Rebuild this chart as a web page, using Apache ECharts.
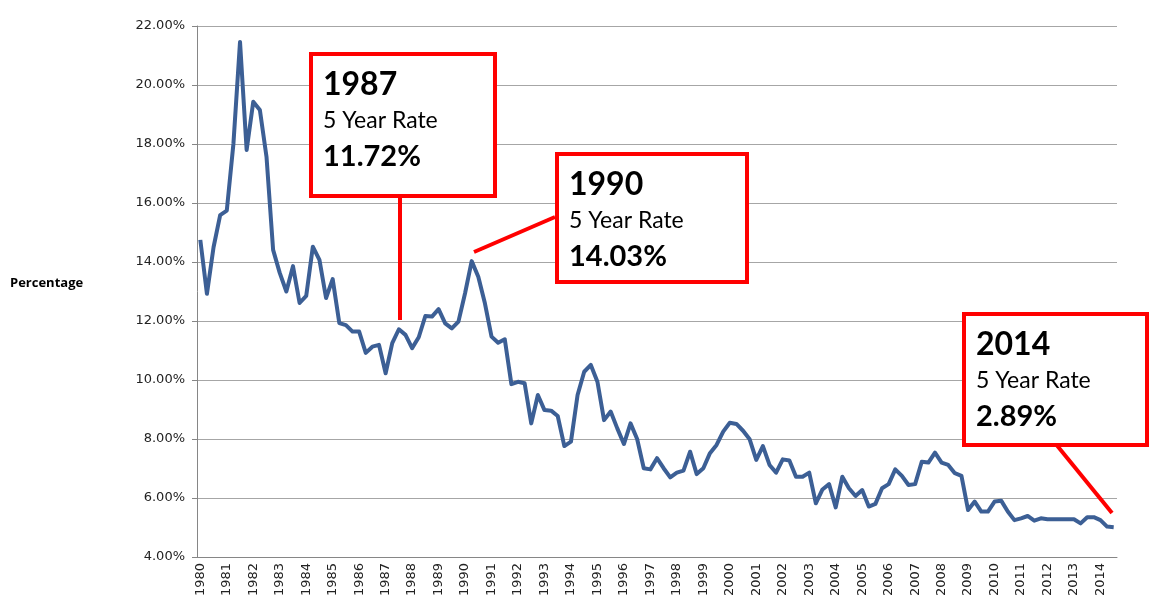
<!DOCTYPE html>
<html>
<head>
<meta charset="utf-8">
<style>
  html, body { margin: 0; padding: 0; background: #fff; }
  #rateChart { width: 1158px; height: 611px; }
</style>
<script src="https://cdn.jsdelivr.net/npm/echarts@6/dist/echarts.min.js"></script>
</head>
<body>
<div id="rateChart"></div>
<script>
// quarterly 5 year rate, 1980 Q1 .. 2014 Q3
const years = [1980, 1981, 1982, 1983, 1984, 1985, 1986, 1987, 1988, 1989,
  1990, 1991, 1992, 1993, 1994, 1995, 1996, 1997, 1998, 1999,
  2000, 2001, 2002, 2003, 2004, 2005, 2006, 2007, 2008, 2009,
  2010, 2011, 2012, 2013, 2014]
const quarterNames = ['Q1', 'Q2', 'Q3', 'Q4']
const lastQuarterCount = 3 // 2014 stops at Q3

const rates1980s = [14.75, 12.92, 14.5, 15.59, 15.74, 18.0, 21.46, 17.8, 19.43, 19.15,
  17.57, 14.41, 13.63, 13.0, 13.86, 12.61, 12.85, 14.52, 14.07, 12.78,
  13.42, 11.93, 11.86, 11.64, 11.64, 10.92, 11.13, 11.19, 10.23, 11.25,
  11.72, 11.53, 11.08, 11.45, 12.17, 12.15, 12.4, 11.92, 11.75, 11.98]
const rates1990s = [12.94, 14.03, 13.5, 12.6, 11.47, 11.26, 11.38, 9.86, 9.94, 9.89,
  8.53, 9.49, 8.98, 8.96, 8.78, 7.76, 7.91, 9.49, 10.28, 10.51,
  9.94, 8.64, 8.93, 8.36, 7.83, 8.53, 8.0, 7.01, 6.97, 7.35,
  7.01, 6.7, 6.86, 6.93, 7.57, 6.81, 7.01, 7.52, 7.8, 8.25]
const rates2000s = [8.55, 8.51, 8.28, 7.99, 7.29, 7.76, 7.12, 6.86, 7.31, 7.27,
  6.72, 6.72, 6.86, 5.82, 6.29, 6.47, 5.68, 6.72, 6.33, 6.07,
  6.27, 5.71, 5.8, 6.33, 6.47, 6.97, 6.75, 6.44, 6.47, 7.23,
  7.2, 7.54, 7.2, 7.12, 6.84, 6.75, 5.59, 5.88, 5.54, 5.54]
const rates2010s = [5.88, 5.91, 5.54, 5.25, 5.31, 5.39, 5.23, 5.31, 5.28, 5.28,
  5.28, 5.28, 5.28, 5.14, 5.35, 5.35, 5.25, 5.03, 5.01]

const yTicks = [4, 6, 8, 10, 12, 14, 16, 18, 20, 22]

const callouts = [
  { year: '1987', label: '5 Year Rate', value: '11.72%' },
  { year: '1990', label: '5 Year Rate', value: '14.03%' },
  { year: '2014', label: '5 Year Rate', value: '2.89%' }
]

const categories = []
years.forEach((y, yi) => {
  const n = yi === years.length - 1 ? lastQuarterCount : 4
  for (let q = 0; q < n; q++) categories.push(y + ' ' + quarterNames[q])
})
const rates = rates1980s.concat(rates1990s, rates2000s, rates2010s)

const myChart = echarts.init(document.getElementById('rateChart'))

const boxFont = "Lato, 'Noto Sans', sans-serif"
const axisFont = "'DejaVu Sans', Verdana, sans-serif"

const calloutBox = (c, x, y, w, h) => ({
  type: 'group',
  left: x,
  top: y,
  z: 100,
  children: [
    {
      type: 'rect',
      z: 100,
      shape: { x: 0, y: 0, width: w, height: h },
      style: { fill: '#fff', stroke: '#ff0000', lineWidth: 4 }
    },
    {
      type: 'text', x: 12, y: 15, z: 101,
      style: { text: c.year, font: 'bold 32px ' + boxFont, fill: '#000' }
    },
    {
      type: 'text', x: 12, y: 55, z: 101,
      style: { text: c.label, font: '23px ' + boxFont, fill: '#000' }
    },
    {
      type: 'text', x: 12, y: 88, z: 101,
      style: { text: c.value, font: 'bold 29px ' + boxFont, fill: '#000' }
    }
  ]
})

const connector = (x1, y1, x2, y2) => ({
  type: 'line',
  z: 99,
  shape: { x1: x1, y1: y1, x2: x2, y2: y2 },
  style: { stroke: '#ff0000', lineWidth: 4 }
})

const option = {
  animation: false,
  grid: {
    left: 197,
    right: 41,
    top: 26,
    bottom: 54
  },
  xAxis: {
    type: 'category',
    data: categories,
    boundaryGap: true,
    axisLine: { lineStyle: { color: '#868686', width: 1 } },
    axisTick: {
      interval: 0,
      length: 4,
      lineStyle: { color: '#868686' }
    },
    axisLabel: {
      interval: 3,
      rotate: 90,
      margin: 6,
      color: '#222',
      fontSize: 13,
      fontFamily: axisFont,
      formatter: (v) => v.slice(0, 4)
    },
    splitLine: { show: false }
  },
  yAxis: {
    type: 'value',
    min: yTicks[0],
    max: yTicks[yTicks.length - 1],
    interval: 2,
    axisLine: { show: true, lineStyle: { color: '#868686', width: 1 } },
    axisTick: { show: true, length: 5, lineStyle: { color: '#868686' } },
    axisLabel: {
      color: '#222',
      fontSize: 13,
      margin: 12,
      fontFamily: axisFont,
      formatter: (v) => v.toFixed(2) + '%'
    },
    splitLine: { lineStyle: { color: '#a6a6a6', width: 1 } }
  },
  series: [
    {
      type: 'line',
      data: rates,
      showSymbol: false,
      symbol: 'none',
      lineStyle: { color: '#3c5f95', width: 4, join: 'round' }
    }
  ],
  graphic: [
    {
      type: 'text',
      left: 10,
      top: 277,
      style: {
        text: 'Percentage',
        font: "bold 13px 'Open Sans', 'Noto Sans', sans-serif",
        fill: '#000'
      }
    },
    connector(400, 194, 400, 320),
    connector(555, 217, 474, 252),
    connector(1055, 443, 1112, 513),
    calloutBox(callouts[0], 309, 52, 184, 142),
    calloutBox(callouts[1], 555, 152, 190, 128),
    calloutBox(callouts[2], 962, 312, 183, 131)
  ]
}
myChart.setOption(option)

window.addEventListener('resize', function () {
  myChart.resize()
})
</script>
</body>
</html>
